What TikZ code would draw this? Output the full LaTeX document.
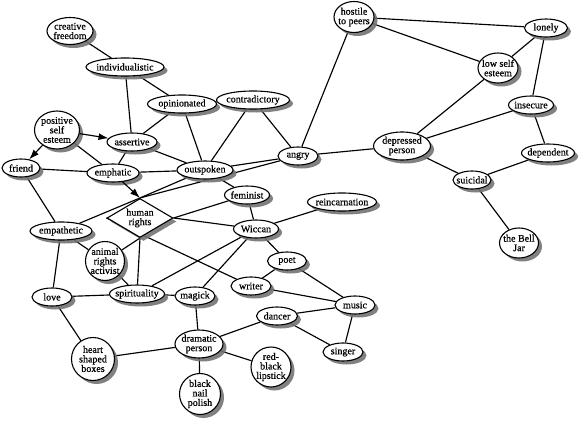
\documentclass[tikz,border=0pt]{standalone}
\usepackage{fontspec}
\setmainfont{Liberation Serif}
\newfontfamily\conceptfont{Liberation Serif}[BoldFont={Liberation Serif}, BoldFeatures={FakeBold=0.6}]
\usetikzlibrary{shapes.geometric, shadows, backgrounds, arrows.meta}

\tikzset{
  concept/.style={draw, line width=1.1pt, fill=white, align=center,
    font=\conceptfont\bfseries\fontsize{10}{9.5}\selectfont,
    drop shadow={shadow xshift=3.5pt, shadow yshift=-3.5pt, fill=black!55, opacity=0.9}},
  ell/.style={concept, ellipse, inner xsep=-6pt, inner ysep=-4pt, minimum height=18pt},
  rnd/.style={concept, circle, inner sep=-3pt, minimum size=#1},
  link/.style={line width=1.15pt},
  arr/.style={link, -{Latex[length=10pt, width=7pt]}},
}

\begin{document}
\begin{tikzpicture}[x=1pt, y=-1pt]
    \useasboundingbox (0,0) rectangle (583,420);

    % upper left
    \node[ell, minimum width=46pt, minimum height=27pt] (creative) at (70,31) {creative\\freedom};
    \node[ell, minimum width=78pt] (indiv) at (125,67) {individualistic};
    \node[ell, minimum width=69pt] (opinion) at (182,104) {opinionated};
    \node[ell, minimum width=73pt] (contra) at (253,100) {contradictory};
    \node[ell, minimum width=45pt, minimum height=38pt] (posself) at (57,130) {positive\\self\\esteem};
    \node[ell, minimum width=50pt] (assert) at (132,142) {assertive};
    \node[ell, minimum width=38pt] (friend) at (21,168) {friend};
    \node[ell, minimum width=52pt] (emphatic) at (113,173) {emphatic};
    \node[ell, minimum width=56pt] (outspoken) at (205,170) {outspoken};
    \node[ell, minimum width=40pt] (angry) at (298,156) {angry};

    % upper right
    \node[ell, minimum width=40pt, minimum height=31pt] (hostile) at (354,17) {hostile\\to peers};
    \node[ell, minimum width=43pt] (lonely) at (546,28) {lonely};
    \node[ell, minimum width=40pt, minimum height=30pt] (lowself) at (498,68) {low self\\esteem};
    \node[ell, minimum width=45pt] (insecure) at (531,105) {insecure};
    \node[ell, minimum width=57pt, minimum height=28pt] (depressed) at (402,146) {depressed\\person};
    \node[ell, minimum width=53pt] (dependent) at (548,153) {dependent};
    \node[ell, minimum width=38pt] (suicidal) at (472,180) {suicidal};
    \node[ell, minimum width=39pt, minimum height=30pt] (belljar) at (519,243) {the Bell\\Jar};

    % middle
    \node[concept, diamond, aspect=1.7, inner sep=0pt, minimum width=66pt, minimum height=39pt] (rights) at (140,218) {human\\rights};
    \node[ell, minimum width=45pt] (feminist) at (247,195) {feminist};
    \node[ell, minimum width=69pt] (reinc) at (342,202) {reincarnation};
    \node[ell, minimum width=45pt] (wiccan) at (256,229) {Wiccan};
    \node[ell, minimum width=62pt] (empathetic) at (61,231) {empathetic};
    \node[rnd=39pt] (animal) at (105,261) {animal\\rights\\activist};
    \node[ell, minimum width=39pt] (poet) at (287,261) {poet};
    \node[ell, minimum width=40pt] (writer) at (251,286) {writer};

    % lower part
    \node[ell, minimum width=40pt] (love) at (52,297) {love};
    \node[ell, minimum width=55pt] (spirit) at (137,294) {spirituality};
    \node[ell, minimum width=40pt] (magick) at (195,296) {magick};
    \node[ell, minimum width=40pt] (music) at (355,305) {music};
    \node[ell, minimum width=41pt] (dancer) at (277,316) {dancer};
    \node[ell, minimum width=40pt] (singer) at (343,352) {singer};
    \node[ell, minimum width=48pt, minimum height=28pt] (dramatic) at (199,344) {dramatic\\person};
    \node[rnd=43pt] (heart) at (93,359) {heart\\shaped\\boxes};
    \node[rnd=40pt] (lipstick) at (271,367) {red-\\black\\lipstick};
    \node[rnd=41pt] (polish) at (200,394) {black\\nail\\polish};

    \begin{scope}[on background layer]
        \foreach \a/\b in {creative/indiv, indiv/assert, indiv/opinion, opinion/assert,
            opinion/contra, opinion/outspoken, contra/outspoken, contra/angry,
            hostile/angry, hostile/lonely, hostile/lowself, lonely/lowself,
            lonely/insecure, lowself/depressed, insecure/depressed, insecure/dependent,
            depressed/suicidal, dependent/suicidal, suicidal/belljar, angry/depressed,
            posself/emphatic, assert/emphatic, assert/outspoken, friend/emphatic,
            friend/empathetic, emphatic/outspoken, outspoken/angry,
            outspoken/feminist, feminist/wiccan, wiccan/reinc, wiccan/poet,
            wiccan/spirit, wiccan/magick, poet/writer, poet/music, writer/music,
            empathetic/love, empathetic/animal, animal/spirit, love/spirit,
            spirit/magick, magick/dramatic, love/heart, heart/dramatic,
            dramatic/lipstick, dramatic/polish, dancer/dramatic, dancer/music,
            dancer/singer, music/singer}
            \draw[link] (\a) -- (\b);

        % links that meet the diamond at its corners
        \draw[link] (rights.north) -- (outspoken);
        \draw[link] (rights.north) -- (angry);
        \draw[link] (empathetic) -- (rights.north);
        \draw[link] (rights.west) -- (writer);
        \draw[link] (rights.east) -- (feminist);
        \draw[link] (rights.east) -- (wiccan);
        \draw[link] (rights.south) -- (spirit);
        \draw[link] (animal) -- (rights.south);
    \end{scope}

    \draw[arr] (posself) -- (assert);
    \draw[arr] (posself) -- (friend);
    \draw[arr] (emphatic) -- (rights.north);
\end{tikzpicture}
\end{document}
